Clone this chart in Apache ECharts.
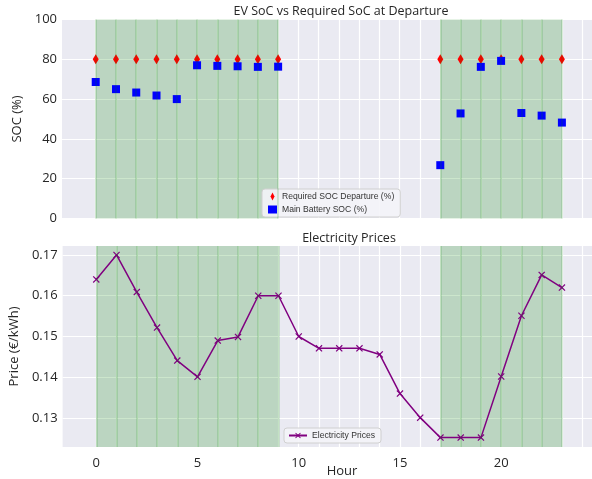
<!DOCTYPE html>
<html><head><meta charset="utf-8">
<script src="https://cdn.jsdelivr.net/npm/echarts@6/dist/echarts.min.js"></script>
<style>html,body{margin:0;padding:0;background:#fff}#c{width:592px;height:479px}</style>
</head><body><div id="c"></div>
<script>
// ---- data ----
const socHours = [0,1,2,3,4,5,6,7,8,9,17,18,19,20,21,22,23];
const requiredSoc = [80,80,80,80,80,80,80,80,80,80,80,80,80,80,80,80,80];
const batterySoc = [68.6,65,63.3,61.8,60,77,76.7,76.5,76.2,76.3,26.8,52.8,76.2,79.2,53,51.7,48.2];
const priceHours = [0,1,2,3,4,5,6,7,8,9,10,11,12,13,14,15,16,17,18,19,20,21,22,23];
const prices = [0.164,0.170,0.1609,0.1522,0.1441,0.1401,0.149,0.1499,0.160,0.160,0.150,0.1471,0.1471,0.1471,0.1456,0.136,0.1301,0.1252,0.1252,0.1252,0.1402,0.1551,0.1651,0.162];
const chargeSpans = [[0,9],[17,23]];
const spanEdgeHours = [0,1,2,3,4,5,6,7,8,9,17,18,19,20,21,22,23];
const xTickLabels = [0,5,10,15,20];
const gridHours = [0,1,2,3,4,5,6,7,8,9,10,11,12,13,14,15,16,17,18,19,20,21,22,23,24];
const socTicks = [0,20,40,60,80,100];
const priceTicks = [0.13,0.14,0.15,0.16,0.17];

const FONT = "'Open Sans', 'DejaVu Sans', sans-serif";
const LFONT = "'Liberation Sans', Arial, sans-serif";
const TXT = '#262626';
const xMin = -1.663, xMax = 24.485;

function xAxisDef(gi, showLabels) {
  return {
    type: 'value', gridIndex: gi, min: xMin, max: xMax,
    axisLine: {show: false},
    axisTick: {show: false, customValues: gridHours},
    axisLabel: {show: showLabels, customValues: xTickLabels, color: TXT, fontSize: 13, fontFamily: FONT, margin: 10},
    splitLine: {show: true, lineStyle: {color: '#ffffff', width: 1.2}}
  };
}
const spanArea = {
  silent: true,
  itemStyle: {color: 'rgba(0,128,0,0.2)'},
  data: chargeSpans.map(s => [{xAxis: s[0]}, {xAxis: s[1]}])
};
const spanLines = {
  silent: true, symbol: ['none','none'], label: {show: false},
  lineStyle: {color: 'rgba(0,128,0,0.2)', width: 1.5, type: 'solid'},
  emphasis: {disabled: true},
  data: spanEdgeHours.map(h => ({xAxis: h}))
};
const xPath = 'path://M0,1.2L1.2,0L5,3.8L8.8,0L10,1.2L6.2,5L10,8.8L8.8,10L5,6.2L1.2,10L0,8.8L3.8,5Z';

const chart = echarts.init(document.getElementById('c'), null, {renderer: 'canvas'});
chart.setOption({
  animation: false,
  backgroundColor: '#ffffff',
  grid: [
    {left: 62, top: 19.5, width: 530, height: 199, show: true, backgroundColor: '#eaeaf2', borderWidth: 0},
    {left: 62, top: 246, width: 530, height: 201, show: true, backgroundColor: '#eaeaf2', borderWidth: 0}
  ],
  xAxis: [xAxisDef(0, false), xAxisDef(1, true)],
  yAxis: [
    {type: 'value', gridIndex: 0, min: 0, max: 100, interval: 20,
     axisLine: {show: false}, axisTick: {show: false},
     axisLabel: {color: TXT, fontSize: 13, fontFamily: FONT, margin: 5},
     splitLine: {lineStyle: {color: '#ffffff', width: 1.2}},
     name: 'SOC (%)', nameLocation: 'middle', nameGap: 37, nameRotate: 90,
     nameTextStyle: {color: TXT, fontSize: 13, fontFamily: FONT}},
    {type: 'value', gridIndex: 1, min: 0.1229, max: 0.1722,
     axisLine: {show: false},
     axisTick: {show: false, customValues: priceTicks},
     axisLabel: {customValues: priceTicks, color: TXT, fontSize: 13, fontFamily: FONT, margin: 5,
       formatter: v => v.toFixed(2)},
     splitLine: {lineStyle: {color: '#ffffff', width: 1.2}},
     name: 'Price (€/kWh)', nameLocation: 'middle', nameGap: 37, nameRotate: 90,
     nameTextStyle: {color: TXT, fontSize: 13, fontFamily: FONT}}
  ],
  legend: [
    {orient: 'vertical', left: 262, top: 189, itemWidth: 9, itemHeight: 8, itemGap: 4,
     padding: [3, 6, 3, 6], backgroundColor: 'rgba(244,244,248,0.9)', borderColor: '#d0d0d0', borderWidth: 1, borderRadius: 3,
     textStyle: {color: '#333', fontSize: 8.6, fontFamily: LFONT},
     data: [{name: 'Required SOC Departure (%)', icon: 'path://M5,0L8,6L5,12L2,6Z'}, {name: 'Main Battery SOC (%)', icon: 'rect'}]},
    {orient: 'vertical', left: 284, top: 428, itemWidth: 18, itemHeight: 7, itemGap: 4,
     padding: [3, 6, 3, 4], backgroundColor: 'rgba(244,244,248,0.9)', borderColor: '#d0d0d0', borderWidth: 1, borderRadius: 3,
     textStyle: {color: '#333', fontSize: 8.6, fontFamily: LFONT},
     data: ['Electricity Prices']}
  ],
  graphic: [
    {type: 'text', x: 341, y: 11, style: {text: 'EV SoC vs Required SoC at Departure', align: 'center', verticalAlign: 'middle', fill: TXT, font: "12.5px " + FONT}},
    {type: 'text', x: 349, y: 238, style: {text: 'Electricity Prices', align: 'center', verticalAlign: 'middle', fill: TXT, font: "12.5px " + FONT}},
    {type: 'text', x: 342, y: 471, style: {text: 'Hour', align: 'center', verticalAlign: 'middle', fill: TXT, font: "13px " + FONT}}
  ],
  series: [
    {name: 'Required SOC Departure (%)', type: 'scatter', xAxisIndex: 0, yAxisIndex: 0,
     symbol: 'diamond', symbolSize: [6, 10], itemStyle: {color: '#ff0000', opacity: 1}, z: 3,
     data: socHours.map((h, i) => [h, requiredSoc[i]]),
     markArea: spanArea, markLine: spanLines},
    {name: 'Main Battery SOC (%)', type: 'scatter', xAxisIndex: 0, yAxisIndex: 0,
     symbol: 'rect', symbolSize: 8, itemStyle: {color: '#0000ff', opacity: 1}, z: 4,
     data: socHours.map((h, i) => [h, batterySoc[i]])},
    {name: 'Electricity Prices', type: 'line', xAxisIndex: 1, yAxisIndex: 1,
     symbol: xPath, symbolSize: 7, showAllSymbol: true,
     lineStyle: {color: '#800080', width: 1.5}, itemStyle: {color: '#800080'},
     data: priceHours.map((h, i) => [h, prices[i]]),
     markArea: spanArea, markLine: spanLines}
  ]
});
</script>
</body></html>
